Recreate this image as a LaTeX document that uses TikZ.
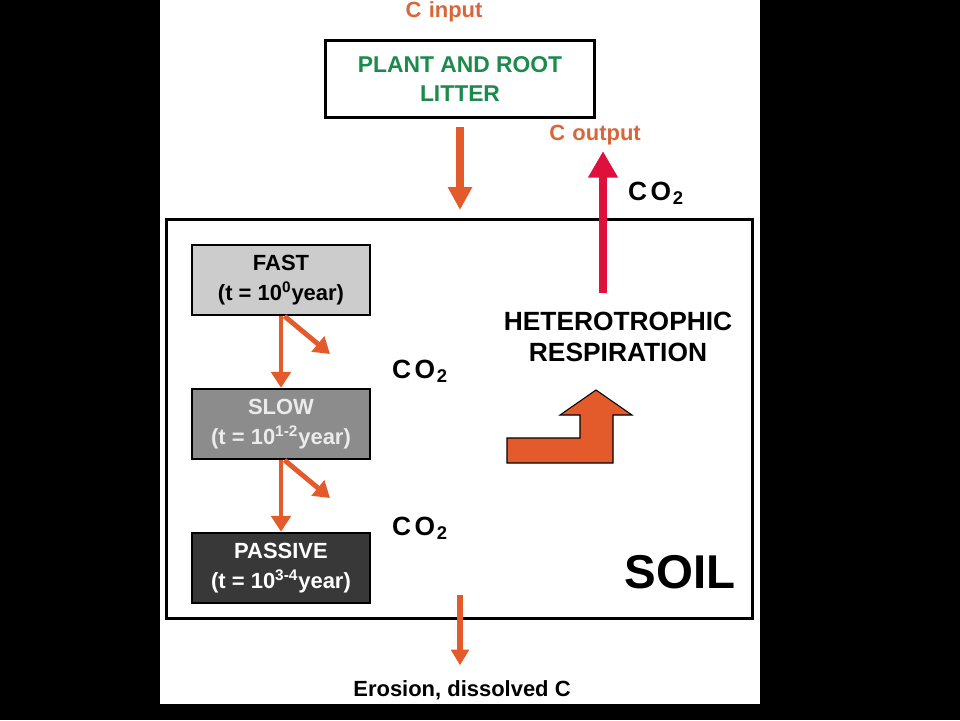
\documentclass[tikz,border=0pt]{standalone}
\usepackage{fontspec}
\setmainfont{Liberation Sans}
\usetikzlibrary{arrows.meta}

\definecolor{flow}{HTML}{E35A2B}
\definecolor{outred}{HTML}{E0103C}
\definecolor{litgreen}{HTML}{1B8A4C}
\definecolor{ctext}{HTML}{D9663A}

\begin{document}
\begin{tikzpicture}[x=0.02cm, y=-0.02cm, node distance=2.88cm]
  \tikzstyle{pool} = [draw, line width=1.2pt, minimum width=101pt,
  minimum height=40pt, inner sep=0pt, align=center,
  font=\fontsize{12.5}{17}\selectfont\bfseries]
  \tikzstyle{flux} = [draw=flow, line width=2.8pt,
  -{Triangle[width=11pt,length=9pt]}]
  \tikzstyle{bigflux} = [draw=flow, line width=5pt,
  -{Triangle[width=13pt,length=13pt]}]
  \tikzstyle{gas} = [font=\fontsize{15}{16}\selectfont\bfseries]
  \tikzstyle{flowtext} = [text=ctext, font=\fontsize{12.5}{14}\selectfont\bfseries]

  % background
  \fill[black] (0,0) rectangle (960,720);
  \fill[white] (160,0) rectangle (760,704);
  \useasboundingbox (0,0) rectangle (960,720);

  % Define nodes
  \node[flowtext] (cinput) at (444,12) {C\,\,input};
  \node[draw, line width=1.7pt, minimum width=153pt, minimum height=43.5pt,
  align=center, text=litgreen, font=\fontsize{13}{16.5}\selectfont\bfseries]
  (litter) at (460,79) {PLANT AND ROOT\\LITTER};
  \node[draw, line width=1.7pt, minimum width=334pt, minimum height=227pt]
  (soil) at (459.5,419) {};

  \node[pool, fill=black!20] (fast) at (281,280)
  {FAST\\(t = 10\textsuperscript{0}year)};
  \node[pool, fill=black!45, text=black!8, below of=fast] (slow)
  {SLOW\\(t = 10\textsuperscript{1-2}year)};
  \node[pool, fill=black!78, text=white, below of=slow] (passive)
  {PASSIVE\\(t = 10\textsuperscript{3-4}year)};

  \node[gas] (co2a) at (420,371) {C\kern2pt O\textsubscript{\kern1pt 2}};
  \node[gas] (co2b) at (420,528) {C\kern2pt O\textsubscript{\kern1pt 2}};
  \node[gas] (co2c) at (656,193) {C\kern2pt O\textsubscript{\kern1pt 2}};

  \node[align=center, font=\fontsize{15}{17.5}\selectfont\bfseries]
  (resp) at (618,337) {HETEROTROPHIC\\RESPIRATION};
  \node[flowtext] (coutput) at (595,135) {C\,\,output};
  \node[font=\fontsize{27}{30}\selectfont\bfseries] (soillabel) at (680,572) {SOIL};
  \node[font=\fontsize{12.5}{14}\selectfont\bfseries] (erosion) at (462,690)
  {Erosion, dissolved C};

  \coordinate (in) at (460,210);
  \coordinate (g1) at (330,354);
  \coordinate (g2) at (330,498);
  \coordinate (rbase) at (603,293);
  \coordinate (ebase) at (460,595);

  % fluxes
  \draw[bigflux, shorten <=4.5pt] (litter) -- (in);
  \draw[flux] (fast) -- (slow);
  \draw[flux] (slow) -- (passive);
  \draw[flux] ([xshift=2pt]fast.south) -- (g1);
  \draw[flux] ([xshift=2pt]slow.south) -- (g2);
  \draw[flux, line width=3.2pt, -{Triangle[width=10pt,length=9pt]},
  shorten >=5pt] (ebase) -- (ebase |- erosion.north);
  \draw[outred, line width=4pt, -{Triangle[width=16pt,length=15pt]}]
  (rbase) -- (rbase |- coutput.south);

  % turning arrow
  \draw[fill=flow, line width=0.6pt] (507,438) -- (580,438) -- (580,415)
  -- (560,415) -- (596,390) -- (632,415) -- (613,415) -- (613,463)
  -- (507,463) -- cycle;
\end{tikzpicture}
\end{document}
